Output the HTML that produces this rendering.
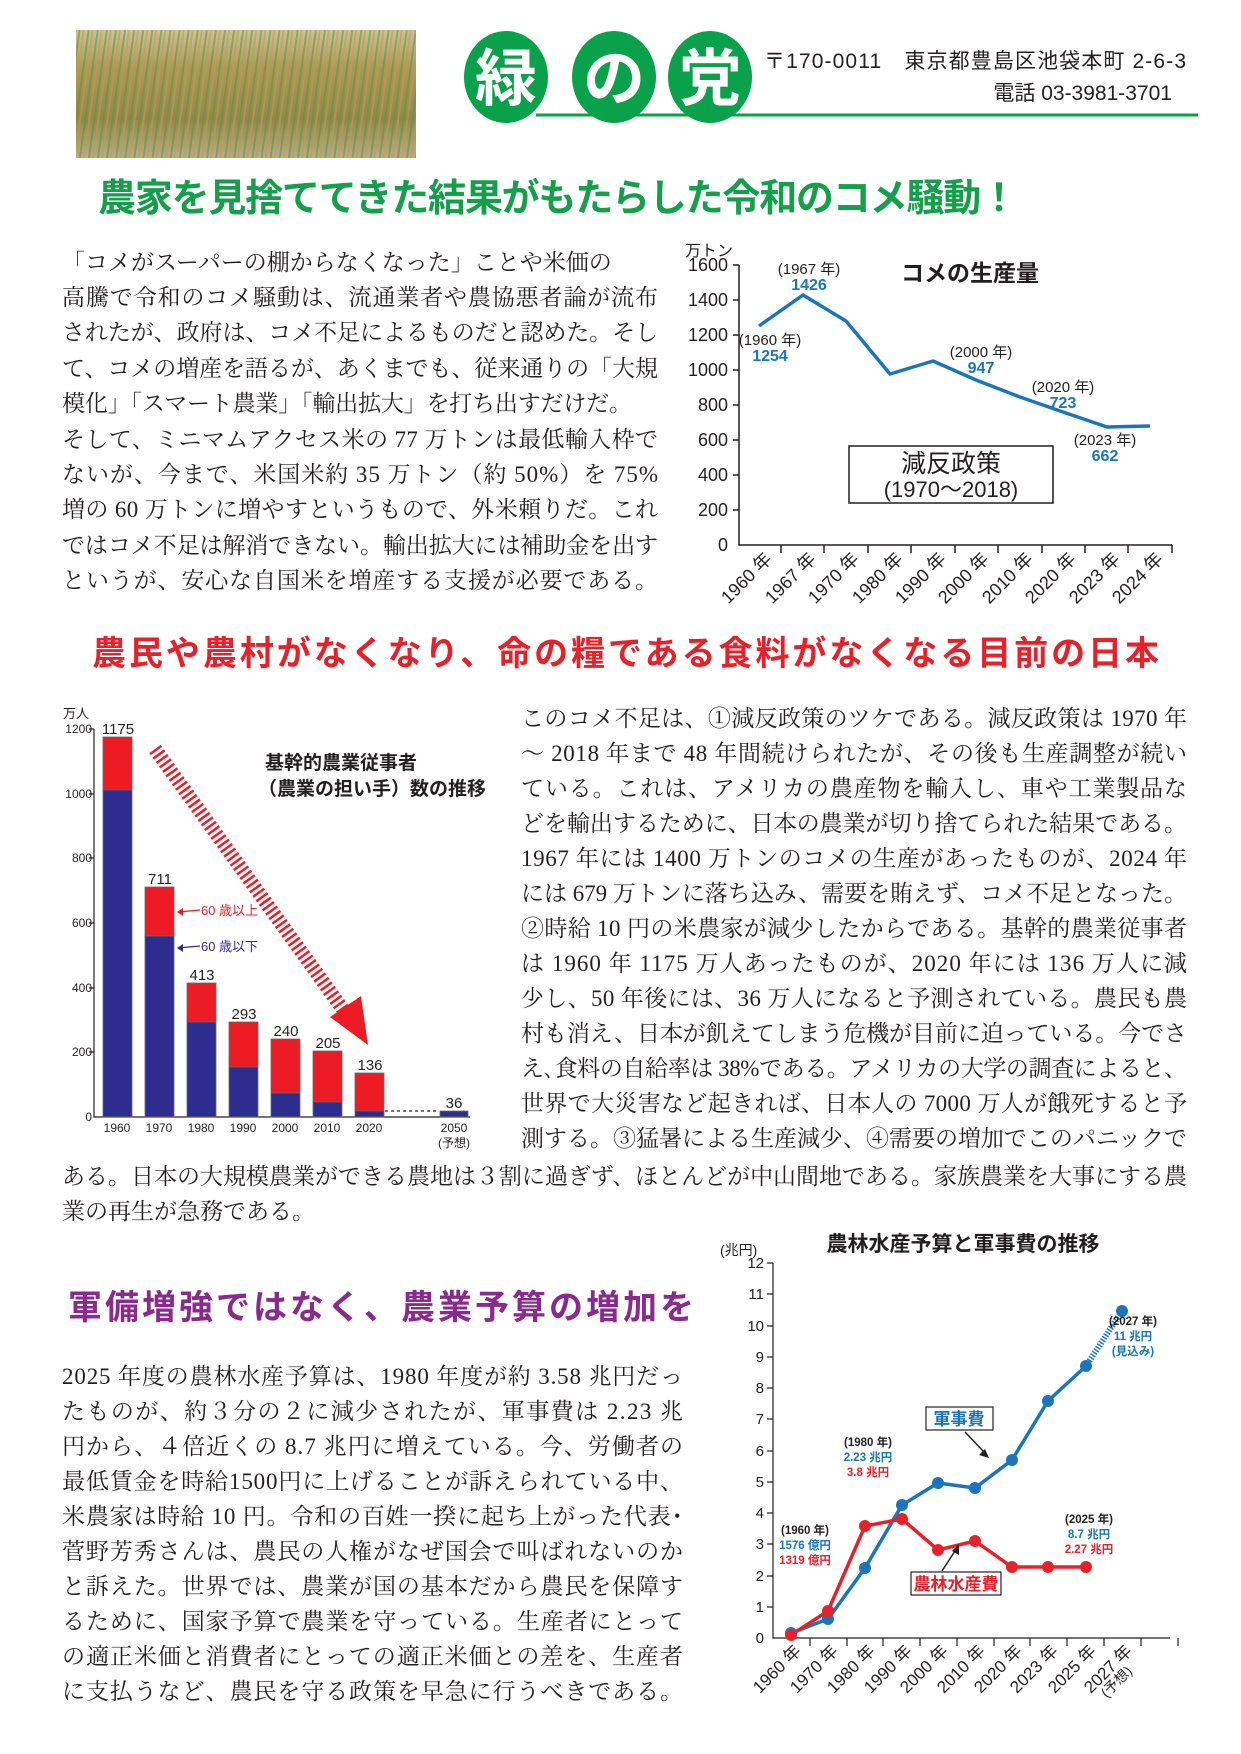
<!DOCTYPE html>
<html><head><meta charset="utf-8"><style>
html,body{margin:0;padding:0;background:#fff;}
svg{display:block;}
.b{font-family:"Liberation Serif","Noto Serif CJK JP","Noto Serif CJK SC",serif;font-size:23px;fill:#231f20;}
.h{font-family:"Liberation Sans","Noto Sans CJK JP",sans-serif;font-weight:bold;}
.s{font-family:"Liberation Sans","Noto Sans CJK JP",sans-serif;}
</style></head><body>
<svg width="1241" height="1754" viewBox="0 0 1241 1754" xmlns="http://www.w3.org/2000/svg">
<defs>
<linearGradient id="ph" x1="0" y1="0" x2="0" y2="1">
<stop offset="0" stop-color="#c8c49a"/><stop offset="0.3" stop-color="#a89a5a"/><stop offset="0.7" stop-color="#8e8a4c"/><stop offset="1" stop-color="#b4b08a"/></linearGradient>
<pattern id="grass" width="9" height="40" patternUnits="userSpaceOnUse" patternTransform="rotate(8)">
<rect width="9" height="40" fill="none"/><rect x="1" width="2" height="40" fill="#6f8a3c" opacity="0.55"/><rect x="5" width="2" height="40" fill="#c59a4a" opacity="0.6"/></pattern>
</defs>
<!-- header -->
<rect x="76" y="30" width="340" height="128" fill="url(#ph)"/>
<rect x="76" y="30" width="340" height="128" fill="url(#grass)"/>
<line x1="536" y1="115" x2="1198" y2="115" stroke="#0aa14b" stroke-width="3"/>
<ellipse cx="506" cy="77" rx="42" ry="46" fill="#0aa14b"/>
<ellipse cx="614" cy="77" rx="42" ry="46" fill="#0aa14b"/>
<ellipse cx="710" cy="77" rx="42" ry="46" fill="#0aa14b"/>
<text x="506" y="100" text-anchor="middle" class="h" font-size="62" fill="#fff">緑</text>
<text x="614" y="100" text-anchor="middle" class="h" font-size="62" fill="#fff">の</text>
<text x="710" y="100" text-anchor="middle" class="h" font-size="62" fill="#fff">党</text>
<text x="764" y="68" class="s" font-size="21" fill="#231f20" textLength="422">〒170-0011　東京都豊島区池袋本町 2-6-3</text>
<text x="1172" y="100" class="s" font-size="21" fill="#231f20" text-anchor="end">電話 03-3981-3701</text>
<text x="98" y="211" class="h" font-size="38" fill="#14a04a" textLength="920">農家を見捨ててきた結果がもたらした令和のコメ騒動！</text>

<!-- para1 -->
<g class="b">
<text x="62" y="270">「コメがスーパーの棚からなくなった」ことや米価の</text>
<text x="62" y="305" textLength="596">高騰で令和のコメ騒動は、流通業者や農協悪者論が流布</text>
<text x="62" y="340" textLength="596">されたが、政府は、コメ不足によるものだと認めた。そし</text>
<text x="62" y="376" textLength="596">て、コメの増産を語るが、あくまでも、従来通りの「大規</text>
<text x="62" y="411" textLength="570">模化」「スマート農業」「輸出拡大」を打ち出すだけだ。</text>
<text x="62" y="447" textLength="596">そして、ミニマムアクセス米の 77 万トンは最低輸入枠で</text>
<text x="62" y="482" textLength="596">ないが、今まで、米国米約 35 万トン（約 50%）を 75%</text>
<text x="62" y="517" textLength="596">増の 60 万トンに増やすというもので、外米頼りだ。これ</text>
<text x="62" y="553" textLength="596">ではコメ不足は解消できない。輸出拡大には補助金を出す</text>
<text x="62" y="588" textLength="596">というが、安心な自国米を増産する支援が必要である。</text>
</g>

<!-- chart1 -->
<g class="s" font-size="18" fill="#231f20" text-anchor="end">
<text x="728" y="551">0</text><text x="728" y="516">200</text><text x="728" y="481">400</text><text x="728" y="446">600</text><text x="728" y="411">800</text><text x="728" y="376">1000</text><text x="728" y="341">1200</text><text x="728" y="306">1400</text><text x="728" y="271">1600</text>
</g>
<text x="685" y="256" class="s" font-size="16" fill="#231f20">万トン</text>
<g stroke="#231f20" stroke-width="1.5" fill="none">
<path d="M739 265 V545 H1172"/>
<path d="M733 265h6M733 300h6M733 335h6M733 370h6M733 405h6M733 440h6M733 475h6M733 510h6"/>
<path d="M781 545v8M824 545v8M868 545v8M911 545v8M955 545v8M998 545v8M1042 545v8M1085 545v8M1128 545v8M1172 545v8"/>
</g>
<polyline points="759,326 803,295 846,321 890,374 933,361 976,380 1020,397 1063,412 1107,427 1150,426" fill="none" stroke="#1a75bb" stroke-width="3.5" stroke-linejoin="round"/>
<text x="970" y="281" class="h" font-size="23" fill="#231f20" text-anchor="middle">コメの生産量</text>
<g class="s" font-size="15" fill="#231f20" text-anchor="middle">
<text x="809" y="274">(1967 年)</text><text x="770" y="345">(1960 年)</text><text x="981" y="357">(2000 年)</text><text x="1063" y="392">(2020 年)</text><text x="1105" y="445">(2023 年)</text>
</g>
<g class="h" font-size="16" fill="#1a75bb" text-anchor="middle">
<text x="809" y="290">1426</text><text x="770" y="361">1254</text><text x="981" y="373">947</text><text x="1063" y="408">723</text><text x="1105" y="461">662</text>
</g>
<rect x="849" y="446" width="204" height="57" fill="#fff" stroke="#231f20" stroke-width="1.5"/>
<text x="951" y="472" class="s" font-size="25" fill="#231f20" text-anchor="middle">減反政策</text>
<text x="951" y="497" class="s" font-size="22" fill="#231f20" text-anchor="middle">(1970～2018)</text>
<g class="s" font-size="18" fill="#231f20" text-anchor="end">
<text transform="translate(773,560) rotate(-45)">1960 年</text>
<text transform="translate(817,560) rotate(-45)">1967 年</text>
<text transform="translate(860,560) rotate(-45)">1970 年</text>
<text transform="translate(904,560) rotate(-45)">1980 年</text>
<text transform="translate(947,560) rotate(-45)">1990 年</text>
<text transform="translate(990,560) rotate(-45)">2000 年</text>
<text transform="translate(1034,560) rotate(-45)">2010 年</text>
<text transform="translate(1077,560) rotate(-45)">2020 年</text>
<text transform="translate(1121,560) rotate(-45)">2023 年</text>
<text transform="translate(1164,560) rotate(-45)">2024 年</text>
</g>

<text x="92" y="665" class="h" font-size="34" fill="#e8202a" textLength="1067">農民や農村がなくなり、命の糧である食料がなくなる目前の日本</text>

<!-- chart2 -->
<g class="s" font-size="12" fill="#231f20" text-anchor="end">
<text x="92" y="1121">0</text><text x="92" y="1056">200</text><text x="92" y="992">400</text><text x="92" y="927">600</text><text x="92" y="862">800</text><text x="92" y="798">1000</text><text x="92" y="733">1200</text>
</g>
<text x="63" y="718" class="s" font-size="13" fill="#231f20">万人</text>
<g stroke="#231f20" stroke-width="1.2"><path d="M94 729V1117H470M89 729h5M89 794h5M89 858h5M89 923h5M89 988h5M89 1052h5" fill="none"/></g>
<g stroke="#666" stroke-width="0.8">
<rect x="103" y="737" width="29" height="53" fill="#ed1c24"/><rect x="103" y="790" width="29" height="327" fill="#2e2d8f"/>
<rect x="145" y="887" width="29" height="49" fill="#ed1c24"/><rect x="145" y="936" width="29" height="181" fill="#2e2d8f"/>
<rect x="187" y="983" width="29" height="39" fill="#ed1c24"/><rect x="187" y="1022" width="29" height="95" fill="#2e2d8f"/>
<rect x="229" y="1022" width="29" height="45" fill="#ed1c24"/><rect x="229" y="1067" width="29" height="50" fill="#2e2d8f"/>
<rect x="271" y="1039" width="29" height="54" fill="#ed1c24"/><rect x="271" y="1093" width="29" height="24" fill="#2e2d8f"/>
<rect x="313" y="1051" width="29" height="51" fill="#ed1c24"/><rect x="313" y="1102" width="29" height="15" fill="#2e2d8f"/>
<rect x="355" y="1073" width="29" height="38" fill="#ed1c24"/><rect x="355" y="1111" width="29" height="6" fill="#2e2d8f"/>
<rect x="440" y="1111" width="28" height="6" fill="#2e2d8f"/>
</g>
<line x1="385" y1="1111" x2="439" y2="1111" stroke="#231f20" stroke-width="1.2" stroke-dasharray="3,3"/>
<g class="s" font-size="15" fill="#231f20" text-anchor="middle">
<text x="118" y="734">1175</text><text x="160" y="884">711</text><text x="202" y="980">413</text><text x="244" y="1019">293</text><text x="286" y="1036">240</text><text x="328" y="1048">205</text><text x="370" y="1070">136</text><text x="454" y="1108">36</text>
</g>
<g class="s" font-size="12" fill="#231f20" text-anchor="middle">
<text x="117" y="1132">1960</text><text x="159" y="1132">1970</text><text x="201" y="1132">1980</text><text x="243" y="1132">1990</text><text x="285" y="1132">2000</text><text x="327" y="1132">2010</text><text x="369" y="1132">2020</text><text x="454" y="1132">2050</text><text x="454" y="1147">(予想)</text>
</g>
<line x1="155" y1="749" x2="352" y2="1022" stroke="#ed1c24" stroke-width="14" stroke-dasharray="2.5,3"/>
<polygon points="330,1017 368,1045 361,996" fill="#ed1c24"/>
<text x="265" y="769" class="h" font-size="19" fill="#231f20">基幹的農業従事者</text>
<text x="258" y="795" class="h" font-size="19" fill="#231f20">（農業の担い手）数の推移</text>
<line x1="178" y1="912" x2="200" y2="910" stroke="#ed1c24" stroke-width="1.2"/><path d="M177 912l6-4v8z" fill="#ed1c24"/>
<text x="201" y="915" class="s" font-size="13" fill="#ed1c24">60 歳以上</text>
<line x1="178" y1="948" x2="200" y2="946" stroke="#2e2d8f" stroke-width="1.2"/><path d="M177 948l6-4v8z" fill="#2e2d8f"/>
<text x="201" y="951" class="s" font-size="13" fill="#2e2d8f">60 歳以下</text>

<!-- para2 -->
<g class="b">
<text x="521" y="726" textLength="666">このコメ不足は、①減反政策のツケである。減反政策は 1970 年</text>
<text x="521" y="761" textLength="666">～ 2018 年まで 48 年間続けられたが、その後も生産調整が続い</text>
<text x="521" y="796" textLength="666">ている。これは、アメリカの農産物を輸入し、車や工業製品な</text>
<text x="521" y="831" textLength="666">どを輸出するために、日本の農業が切り捨てられた結果である。</text>
<text x="521" y="866" textLength="666">1967 年には 1400 万トンのコメの生産があったものが、2024 年</text>
<text x="521" y="901" textLength="666">には 679 万トンに落ち込み、需要を賄えず、コメ不足となった。</text>
<text x="521" y="936" textLength="666">②時給 10 円の米農家が減少したからである。基幹的農業従事者</text>
<text x="521" y="971" textLength="666">は 1960 年 1175 万人あったものが、2020 年には 136 万人に減</text>
<text x="521" y="1006" textLength="666">少し、50 年後には、36 万人になると予測されている。農民も農</text>
<text x="521" y="1041" textLength="666">村も消え、日本が飢えてしまう危機が目前に迫っている。今でさ</text>
<text x="521" y="1076" textLength="666">え､食料の自給率は 38%である。アメリカの大学の調査によると、</text>
<text x="521" y="1111" textLength="666">世界で大災害など起きれば、日本人の 7000 万人が餓死すると予</text>
<text x="521" y="1146" textLength="666">測する。③猛暑による生産減少、④需要の増加でこのパニックで</text>
<text x="62" y="1184" textLength="1125">ある。日本の大規模農業ができる農地は３割に過ぎず、ほとんどが中山間地である。家族農業を大事にする農</text>
<text x="62" y="1219">業の再生が急務である。</text>
</g>

<text x="68" y="1319" class="h" font-size="34" fill="#8b2a8e" textLength="626">軍備増強ではなく、農業予算の増加を</text>

<!-- para3 -->
<g class="b">
<text x="62" y="1384" textLength="621">2025 年度の農林水産予算は、1980 年度が約 3.58 兆円だっ</text>
<text x="62" y="1419" textLength="621">たものが、約３分の２に減少されたが、軍事費は 2.23 兆</text>
<text x="62" y="1454" textLength="621">円から、４倍近くの 8.7 兆円に増えている。今、労働者の</text>
<text x="62" y="1489" textLength="621">最低賃金を時給1500円に上げることが訴えられている中、</text>
<text x="62" y="1524" textLength="621">米農家は時給 10 円。令和の百姓一揆に起ち上がった代表･</text>
<text x="62" y="1559" textLength="621">菅野芳秀さんは、農民の人権がなぜ国会で叫ばれないのか</text>
<text x="62" y="1594" textLength="621">と訴えた。世界では、農業が国の基本だから農民を保障す</text>
<text x="62" y="1629" textLength="621">るために、国家予算で農業を守っている。生産者にとって</text>
<text x="62" y="1664" textLength="621">の適正米価と消費者にとっての適正米価との差を、生産者</text>
<text x="62" y="1699" textLength="621">に支払うなど、農民を守る政策を早急に行うべきである。</text>
</g>

<!-- chart3 -->
<text x="963" y="1251" class="h" font-size="21" fill="#231f20" text-anchor="middle">農林水産予算と軍事費の推移</text>
<text x="720" y="1255" class="s" font-size="14" fill="#231f20">(兆円)</text>
<g class="s" font-size="15" fill="#231f20" text-anchor="end">
<text x="764" y="1643">0</text><text x="764" y="1612">1</text><text x="764" y="1581">2</text><text x="764" y="1549">3</text><text x="764" y="1518">4</text><text x="764" y="1487">5</text><text x="764" y="1456">6</text><text x="764" y="1424">7</text><text x="764" y="1393">8</text><text x="764" y="1362">9</text><text x="764" y="1331">10</text><text x="764" y="1299">11</text><text x="764" y="1268">12</text>
</g>
<g stroke="#231f20" stroke-width="1.2" fill="none">
<path d="M773 1263V1638H1170"/>
<path d="M767 1263h6M767 1294h6M767 1326h6M767 1357h6M767 1388h6M767 1419h6M767 1451h6M767 1482h6M767 1513h6M767 1544h6M767 1576h6M767 1607h6"/>
<path d="M810 1638v8M847 1638v8M883 1638v8M920 1638v8M957 1638v8M994 1638v8M1030 1638v8M1067 1638v8M1104 1638v8M1141 1638v8M1178 1638v8"/>
</g>
<line x1="1086" y1="1366" x2="1122" y2="1311" stroke="#1a75bb" stroke-width="6" stroke-dasharray="1.5,1.5"/>
<polyline points="791,1633 828,1619 865,1568 902,1505 938,1483 975,1488 1012,1460 1048,1401 1086,1366" fill="none" stroke="#1a75bb" stroke-width="3.5"/>
<polyline points="791,1635 828,1611 865,1526 902,1519 938,1550 975,1541 1012,1567 1048,1567 1086,1567" fill="none" stroke="#e8202a" stroke-width="3.5"/>
<g fill="#1a75bb">
<circle cx="791" cy="1633" r="6"/><circle cx="828" cy="1619" r="6"/><circle cx="865" cy="1568" r="6"/><circle cx="902" cy="1505" r="6"/><circle cx="938" cy="1483" r="6"/><circle cx="975" cy="1488" r="6"/><circle cx="1012" cy="1460" r="6"/><circle cx="1048" cy="1401" r="6"/><circle cx="1086" cy="1366" r="6"/><circle cx="1122" cy="1311" r="6"/>
</g>
<g fill="#e8202a">
<circle cx="791" cy="1635" r="6"/><circle cx="828" cy="1611" r="6"/><circle cx="865" cy="1526" r="6"/><circle cx="902" cy="1519" r="6"/><circle cx="938" cy="1550" r="6"/><circle cx="975" cy="1541" r="6"/><circle cx="1012" cy="1567" r="6"/><circle cx="1048" cy="1567" r="6"/><circle cx="1086" cy="1567" r="6"/>
</g>
<g class="h" font-size="11.5" text-anchor="middle">
<text x="1133" y="1325" fill="#231f20">(2027 年)</text><text x="1133" y="1340" fill="#1a75bb">11 兆円</text><text x="1133" y="1355" fill="#1a75bb">(見込み)</text>
<text x="868" y="1446" fill="#231f20">(1980 年)</text><text x="868" y="1461" fill="#1a75bb">2.23 兆円</text><text x="868" y="1476" fill="#e8202a">3.8 兆円</text>
<text x="805" y="1534" fill="#231f20">(1960 年)</text><text x="805" y="1549" fill="#1a75bb">1576 億円</text><text x="805" y="1564" fill="#e8202a">1319 億円</text>
<text x="1089" y="1523" fill="#231f20">(2025 年)</text><text x="1089" y="1538" fill="#1a75bb">8.7 兆円</text><text x="1089" y="1553" fill="#e8202a">2.27 兆円</text>
</g>
<rect x="926" y="1407" width="67" height="23" fill="#fff" stroke="#231f20" stroke-width="1.2"/>
<text x="959" y="1425" class="h" font-size="17" fill="#1a75bb" text-anchor="middle">軍事費</text>
<line x1="965" y1="1432" x2="984" y2="1452" stroke="#231f20" stroke-width="1.5"/><path d="M989 1458l-10-3 6-6z" fill="#231f20"/>
<rect x="911" y="1572" width="90" height="23" fill="#fff" stroke="#231f20" stroke-width="1.2"/>
<text x="956" y="1590" class="h" font-size="17" fill="#e8202a" text-anchor="middle">農林水産費</text>
<line x1="942" y1="1571" x2="955" y2="1551" stroke="#231f20" stroke-width="1.5"/><path d="M959 1544l0 11-7-4z" fill="#231f20"/>
<g class="s" font-size="17" fill="#231f20" text-anchor="end">
<text transform="translate(802,1652) rotate(-45)">1960 年</text>
<text transform="translate(839,1652) rotate(-45)">1970 年</text>
<text transform="translate(876,1652) rotate(-45)">1980 年</text>
<text transform="translate(913,1652) rotate(-45)">1990 年</text>
<text transform="translate(949,1652) rotate(-45)">2000 年</text>
<text transform="translate(986,1652) rotate(-45)">2010 年</text>
<text transform="translate(1023,1652) rotate(-45)">2020 年</text>
<text transform="translate(1059,1652) rotate(-45)">2023 年</text>
<text transform="translate(1097,1652) rotate(-45)">2025 年</text>
<text transform="translate(1133,1652) rotate(-45)">2027 年</text>
<text transform="translate(1133,1672) rotate(-45)" font-size="14">(予想)</text>
</g>
</svg>
</body></html>
